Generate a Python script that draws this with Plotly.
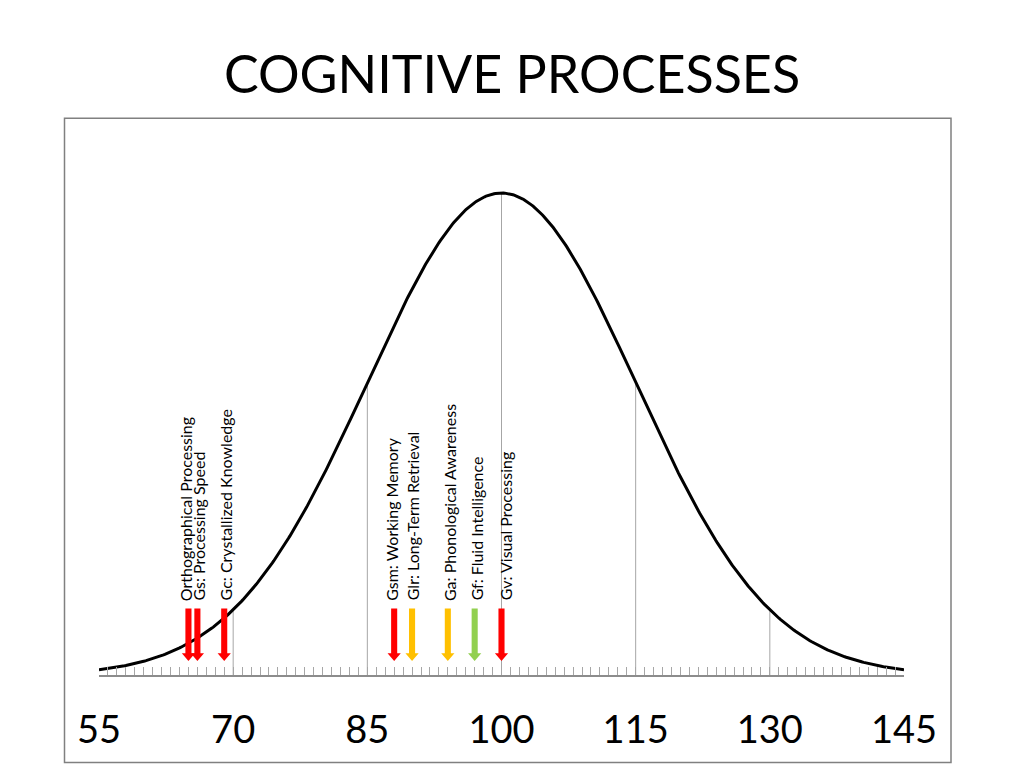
import numpy as np
import plotly.graph_objects as go

# ---- data ----
title_text = "COGNITIVE PROCESSES"
tick_values = [55, 70, 85, 100, 115, 130, 145]
guide_values = [70, 85, 100, 115, 130]
mean_score = 100
sd_score = 15

process_labels = [
    "Orthographical Processing",
    "Gs: Processing Speed",
    "Gc: Crystallized Knowledge",
    "Gsm: Working Memory",
    "Glr: Long-Term Retrieval",
    "Ga: Phonological Awareness",
    "Gf: Fluid Intelligence",
    "Gv: Visual Processing",
]
process_scores = [65, 66, 69, 88, 90, 94, 97, 100]
process_colors = ["#FF0000", "#FF0000", "#FF0000", "#FF0000",
                  "#FFC000", "#FFC000", "#92D050", "#FF0000"]
label_xshift = [-3, 1, 1, -2, 0, 1, 2, 4]

FONT = "Lato"

# page offset compensation (browser body margin)
OFF = 8
L, R, T, B = 99 - OFF, 120 + OFF, 118 - OFF, 93 + OFF
PW = 1024 - L - R
PH = 768 - T - B


def bell(x):
    x = np.asarray(x, dtype=float)
    return np.exp(-0.5 * ((x - mean_score) / sd_score) ** 2)


x_curve = np.linspace(tick_values[0], tick_values[-1], 600)
y_curve = bell(x_curve)

fig = go.Figure()

# guide lines from baseline up to the curve
gx, gy = [], []
for v in guide_values:
    gx += [v, v, None]
    gy += [0, float(bell(v)), None]
fig.add_trace(go.Scatter(x=gx, y=gy, mode="lines",
                         line=dict(color="#a6a6a6", width=1),
                         hoverinfo="skip", showlegend=False))

fig.add_trace(go.Scatter(x=x_curve, y=y_curve, mode="lines",
                         line=dict(color="black", width=3),
                         hoverinfo="skip", showlegend=False))

# arrow geometry (in axis units)
arrow_top = 0.138
arrow_tip = 0.029
head_len = 0.016
shaft_half = 0.34
head_half = 0.74

shapes = []
annotations = []
for lab, sc, col, xs in zip(process_labels, process_scores, process_colors, label_xshift):
    ht = arrow_tip + head_len
    path = (f"M {sc - shaft_half},{arrow_top} L {sc + shaft_half},{arrow_top} "
            f"L {sc + shaft_half},{ht} L {sc + head_half},{ht} L {sc},{arrow_tip} "
            f"L {sc - head_half},{ht} L {sc - shaft_half},{ht} Z")
    shapes.append(dict(type="path", xref="x", yref="y", path=path,
                       fillcolor=col, line=dict(width=0), layer="above"))
    annotations.append(dict(x=sc, y=arrow_top + 0.012, xref="x", yref="y",
                            text=lab, showarrow=False, textangle=-90,
                            xanchor="center", yanchor="bottom", xshift=xs,
                            font=dict(family=FONT, size=16, color="black")))

# outer frame (target pixel box 64.5..951 x 118.3..762.5 in page coords)
fx0 = (64.5 - OFF - L) / PW
fx1 = (951 - OFF - L) / PW
fy1 = (768 - B - (118.3 - OFF)) / PH
fy0 = (768 - B - (762.5 - OFF)) / PH
shapes.append(dict(type="rect", xref="paper", yref="paper",
                   x0=fx0, x1=fx1, y0=fy0, y1=fy1,
                   line=dict(color="#808080", width=1.5), fillcolor="rgba(0,0,0,0)",
                   layer="below"))

fig.update_layout(
    width=1024, height=768,
    margin=dict(l=L, r=R, t=T, b=B, pad=0),
    paper_bgcolor="white", plot_bgcolor="white",
    showlegend=False,
    title=dict(text=title_text, x=(512 - OFF) / 1024, xref="container", xanchor="center",
               y=1 - (75 - OFF) / 768, yref="container", yanchor="middle",
               font=dict(family=FONT, size=52, color="black")),
    shapes=shapes,
    annotations=annotations,
)

fig.update_xaxes(
    range=[tick_values[0], tick_values[-1]],
    tickmode="array", tickvals=tick_values,
    ticktext=[str(v) for v in tick_values],
    showline=True, linecolor="#8c8c8c", linewidth=1.5,
    ticks="inside", ticklen=8, tickcolor="#a6a6a6", tickwidth=1,
    minor=dict(tickmode="linear", tick0=tick_values[0], dtick=1,
               ticks="inside", ticklen=8, tickcolor="#a6a6a6", tickwidth=1,
               showgrid=False),
    showgrid=False, zeroline=False,
    tickfont=dict(family=FONT, size=38, color="black"),
    ticklabelstandoff=21,
)
fig.update_yaxes(range=[0, PH / 482],
                 visible=False, showgrid=False, zeroline=False)

fig.write_html("out.html")
